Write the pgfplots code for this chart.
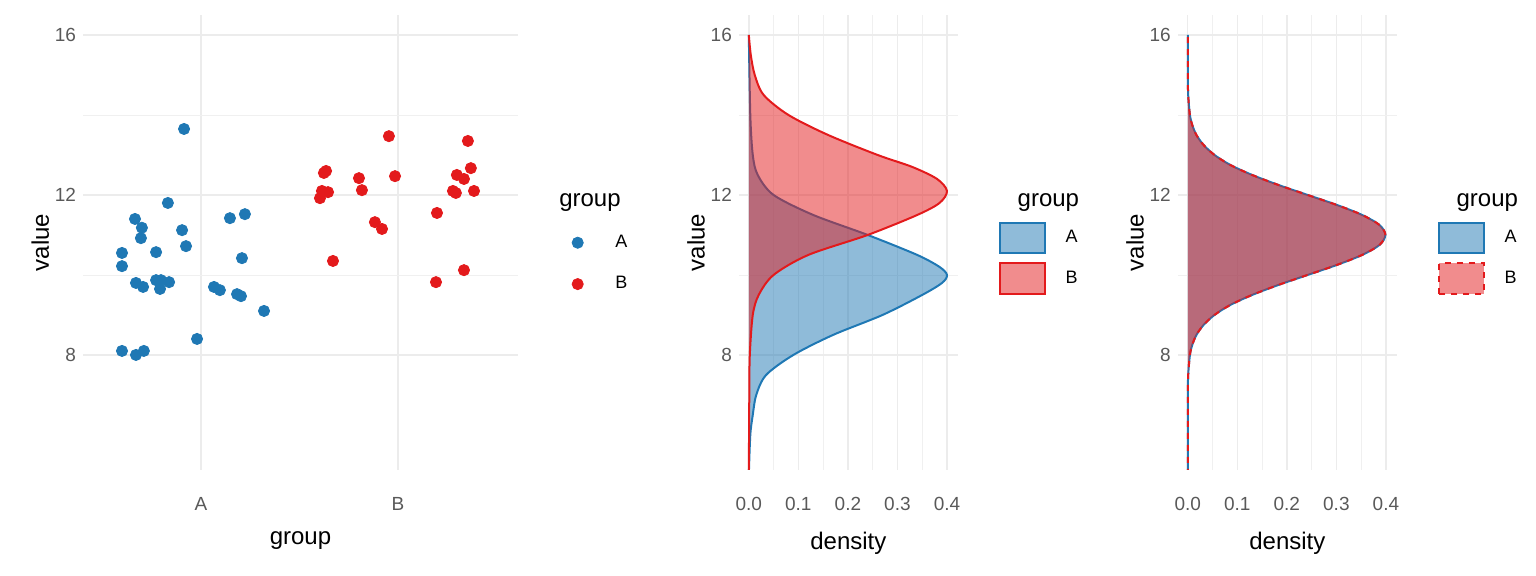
\documentclass[border=0pt]{standalone}
\usepackage{fontspec}
\setmainfont{Liberation Sans}
\usepackage{pgfplots}
\pgfplotsset{compat=1.18}
\definecolor{cA}{HTML}{1F78B4}
\definecolor{cB}{HTML}{E31A1C}
\pgfplotsset{
  mystyle/.style={scale only axis, axis line style={draw=none}, tick style={draw=none},
    /pgf/number format/assume math mode=true,
    ymin=5.125, ymax=16.5, ytick={8,12,16}, minor y tick num=1,
    grid=both, major grid style={gray!15, line width=0.7pt}, minor grid style={gray!12, line width=0.4pt},
    ticklabel style={font=\fontsize{9.5}{11}\selectfont, text=black!65},
    xticklabel style={yshift=-10pt},
    label style={font=\fontsize{12}{14}\selectfont},
    ylabel={value}, ylabel style={yshift=-4pt},
    xlabel style={yshift=-4pt},
    legend cell align=left,
    legend style={draw=none, fill=none, anchor=west, font=\fontsize{9}{11}\selectfont, row sep=9pt,
      nodes={inner xsep=6pt}},
  },
  dens/.style={mystyle, width=109.5pt, height=227.5pt, xmin=-0.02, xmax=0.422,
    xtick={0,0.1,0.2,0.3,0.4}, minor x tick num=1, xlabel={density},
    xticklabel style={/pgf/number format/fixed, /pgf/number format/precision=1, /pgf/number format/fixed zerofill},
    legend style={at={(1.16,0.5)}, row sep=4pt},
    legend image code/.code={\draw[#1] (0cm,-0.27cm) rectangle (0.78cm,0.27cm);}},
}
\begin{document}
\begin{tikzpicture}[x=1pt,y=1pt]
\path (0,0) rectangle (768,288);
\begin{axis}[mystyle, at={(41.5pt,53pt)}, anchor=south west, width=217.5pt, height=227.5pt,
  xmin=0.401, xmax=2.609, xtick={1,2}, xticklabels={A,B}, minor x tick num=0, xlabel={group},
  legend style={at={(1.09,0.5)}},
  legend image code/.code={\draw[#1, mark size=2.8pt] plot coordinates {(0.25cm,0cm)};}]
\addlegendimage{empty legend}\addlegendentry{\hspace{-18pt}\fontsize{12}{14}\selectfont group}
\addplot[only marks, mark=*, mark size=2.8pt, color=cA] coordinates {
(0.599,10.55)(0.599,10.22)(0.665,11.4)(0.70,11.18)(0.695,10.92)(0.772,10.57)(0.914,13.65)(0.832,11.8)
(0.904,11.12)(0.924,10.72)(1.147,11.42)(1.223,11.52)(1.208,10.42)(0.67,9.8)(0.706,9.7)(0.772,9.87)
(0.797,9.87)(0.792,9.65)(0.838,9.82)(1.066,9.7)(1.096,9.62)(1.183,9.52)(1.203,9.47)(1.32,9.1)
(0.98,8.4)(0.599,8.1)(0.71,8.1)(0.67,8.0)};
\addlegendentry{\hspace{10pt}A}
\addplot[only marks, mark=*, mark size=2.8pt, color=cB] coordinates {
(1.954,13.47)(2.355,13.35)(1.635,12.6)(1.624,12.55)(1.802,12.42)(2.299,12.5)(2.335,12.4)(2.37,12.67)
(1.985,12.47)(1.614,12.1)(1.645,12.07)(1.604,11.92)(1.817,12.12)(2.279,12.1)(2.294,12.05)(2.386,12.1)
(2.198,11.55)(1.883,11.32)(1.919,11.15)(1.67,10.35)(2.335,10.12)(2.193,9.82)};
\addlegendentry{\hspace{10pt}B}
\end{axis}
\begin{axis}[dens, at={(369.5pt,53pt)}, anchor=south west]
\addlegendimage{empty legend}\addlegendentry{\hspace{-20pt}\fontsize{12}{14}\selectfont group}
\addplot[cA, line width=1pt, fill=cA, fill opacity=0.5, smooth] coordinates {
(0,5)(0.003,6)(0.008,6.5)(0.015,7)(0.035,7.5)(0.09,8)(0.17,8.5)(0.27,9)(0.35,9.5)(0.39,9.8)(0.40,10)
(0.385,10.2)(0.34,10.5)(0.24,11)(0.13,11.5)(0.05,12)(0.018,12.5)(0.008,13)(0.003,14)(0,16)};
\addlegendentry{\hspace{4pt}A}
\addplot[cB, line width=1pt, fill=cB, fill opacity=0.5, smooth] coordinates {
(0,5)(0.001,7)(0.002,8)(0.008,9)(0.02,9.5)(0.05,10)(0.12,10.5)(0.24,11)(0.34,11.5)(0.385,11.8)(0.40,12.1)
(0.38,12.4)(0.33,12.7)(0.26,13)(0.16,13.5)(0.08,14)(0.03,14.5)(0.012,15)(0.004,15.5)(0,16)};
\addlegendentry{\hspace{4pt}B}
\end{axis}
\begin{axis}[dens, at={(589pt,53pt)}, anchor=south west]
\addlegendimage{empty legend}\addlegendentry{\hspace{-20pt}\fontsize{12}{14}\selectfont group}
\addplot[cA, line width=1pt, fill=cA, fill opacity=0.5, smooth] coordinates {
(0,5)(0.0001,7)(0.0009,7.5)(0.0044,8)(0.0091,8.25)(0.0175,8.5)(0.032,8.75)(0.054,9)(0.086,9.25)(0.130,9.5)
(0.183,9.75)(0.242,10)(0.301,10.25)(0.352,10.5)(0.387,10.75)(0.399,11)(0.387,11.25)(0.352,11.5)(0.301,11.75)
(0.242,12)(0.183,12.25)(0.130,12.5)(0.086,12.75)(0.054,13)(0.032,13.25)(0.0175,13.5)(0.0091,13.75)(0.0044,14)
(0.0009,14.5)(0.0001,15)(0,16)};
\addlegendentry{\hspace{4pt}A}
\addplot[cB, line width=1pt, dashed, fill=cB, fill opacity=0.5, smooth] coordinates {
(0,5)(0.0001,7)(0.0009,7.5)(0.0044,8)(0.0091,8.25)(0.0175,8.5)(0.032,8.75)(0.054,9)(0.086,9.25)(0.130,9.5)
(0.183,9.75)(0.242,10)(0.301,10.25)(0.352,10.5)(0.387,10.75)(0.399,11)(0.387,11.25)(0.352,11.5)(0.301,11.75)
(0.242,12)(0.183,12.25)(0.130,12.5)(0.086,12.75)(0.054,13)(0.032,13.25)(0.0175,13.5)(0.0091,13.75)(0.0044,14)
(0.0009,14.5)(0.0001,15)(0,16)};
\addlegendentry{\hspace{4pt}B}
\end{axis}
\end{tikzpicture}
\end{document}
